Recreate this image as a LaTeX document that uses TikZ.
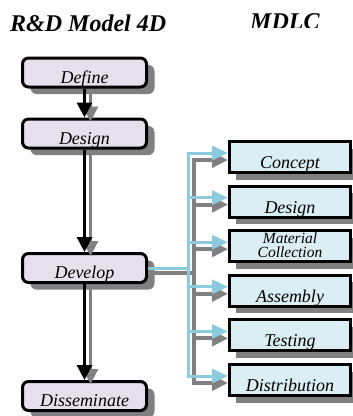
\documentclass[tikz,border=0pt]{standalone}
\usepackage{fontspec}
\setmainfont{Liberation Serif}
\usetikzlibrary{arrows.meta,shadows}
\definecolor{phasefill}{RGB}{230,224,236}
\definecolor{stagefill}{RGB}{218,238,243}
\definecolor{linkblue}{RGB}{140,203,221}
\definecolor{shadegray}{RGB}{128,128,128}
\newcommand\stackpair[2]{\vbox{\fontsize{15.5}{14}\selectfont\halign{\hfil##\hfil\cr#1\cr#2\cr}}}
\tikzset{
    phase box/.style={
        draw,line width=3pt,rounded corners=6pt,
        fill=phasefill,
        minimum width=124pt,minimum height=29pt,
        inner ysep=4pt,text height=21pt,text depth=0pt,
        font=\fontsize{18}{18}\selectfont\itshape,
        drop shadow={shadow xshift=8pt,shadow yshift=-7pt,fill=shadegray,opacity=1}
    },
    stage box/.style={
        draw,line width=3pt,
        fill=stagefill,
        minimum width=121pt,minimum height=31pt,
        inner ysep=4pt,text height=23pt,text depth=0pt,
        font=\fontsize{18}{18}\selectfont\itshape,
        drop shadow={shadow xshift=6pt,shadow yshift=-7pt,fill=shadegray,opacity=1}
    },
    title/.style={inner sep=0pt,font=\fontsize{24}{24}\selectfont\bfseries\itshape},
    main arrow/.style={line width=3pt,-{Triangle[width=15pt,length=15pt]}},
    main shade/.style={shadegray,line width=3pt,-{Triangle[width=15pt,length=15pt]}},
    link/.style={linkblue,line width=3pt,-{Triangle[width=14pt,length=16pt]}},
    link shade/.style={shadegray,line width=4pt,-{Triangle[width=15pt,length=16pt]}}
}
\begin{document}
\begin{tikzpicture}[x=1pt,y=-1pt]
\useasboundingbox (0,0) rectangle (353,416);
% titles
\node[title,anchor=base west] (rdtitle) at (10,31) {R\&D Model 4D};
\begin{scope}
\clip (240,0) rectangle (340,27);
\node[title,anchor=base west] (mdlc) at (250,29) {MDLC};
\end{scope}
% 4D phases
\node[phase box] (define) at (84.5,72.5) {Define};
\node[phase box] (design) at (84.5,133.5) {Design};
\node[phase box] (develop) at (84.5,268) {Develop};
\node[phase box] (disseminate) at (84.5,396) {Disseminate};
% MDLC stages
\foreach \i/\name/\txt in {0/concept/Concept,1/stagedesign/Design,2/material/{\stackpair{Material}{Collection}},3/assembly/Assembly,4/testing/Testing,5/distribution/Distribution}
    \node[stage box] (\name) at (290,157+44.6*\i) {\txt};
\foreach \a/\b in {define/design,design/develop,develop/disseminate} {
    \draw[main shade] ([xshift=6pt,yshift=-4pt]\a.south) -- ([xshift=6pt,yshift=-4pt]\b.north);
    \draw[main arrow] (\a.south) -- (\b.north);
}
\coordinate (bus) at (188,268);
\draw[link shade,-] ([yshift=-5pt]develop.east) -- ([xshift=8pt,yshift=-5pt]bus);
\foreach \s in {concept,stagedesign,material,assembly,testing,distribution}
    \draw[link shade] ([xshift=6pt,yshift=-7pt]bus) |- ([yshift=-3pt]\s.west);
\draw[link,-] (develop.east) -- (bus);
\foreach \s in {concept,stagedesign,material,assembly,testing,distribution}
    \draw[link] (bus) |- ([yshift=4pt]\s.west);
\end{tikzpicture}
\end{document}
